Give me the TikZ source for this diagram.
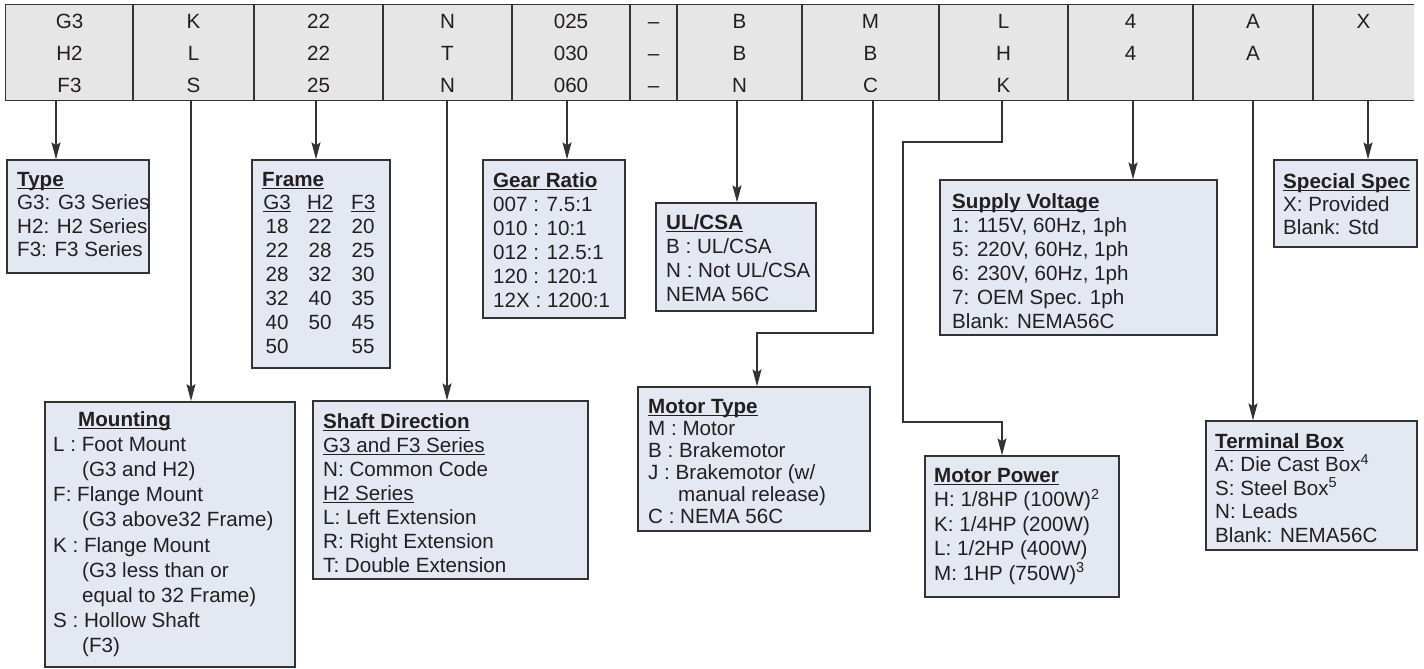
\documentclass[tikz,border=0pt]{standalone}
\usepackage{fontspec}
\setmainfont{Liberation Sans}
\usetikzlibrary{arrows.meta,fit}
\definecolor{hdrfill}{RGB}{230,230,231}
\definecolor{boxfill}{RGB}{228,232,243}
\definecolor{ink}{RGB}{35,31,32}
\definecolor{edge}{RGB}{51,51,51}
\newcommand\fsz[1]{\fontsize{20.6}{#1}\selectfont}
\newcommand\myul[1]{\setbox0=\hbox{#1}\rlap{\rule[-3pt]{\wd0}{1.5pt}}\box0}
\newcommand\myulthin[1]{\setbox0=\hbox{#1}\rlap{\rule[-2.8pt]{\wd0}{1.1pt}}\box0}
\newcommand\fc[1]{\makebox[43pt][c]{#1}}
\begin{document}
\begin{tikzpicture}[x=1pt,y=-1pt,
  infobox/.style={draw=edge, fill=boxfill, line width=1.3pt, inner sep=0pt, rectangle},
  conn/.style={draw=edge, line width=1.2pt, -{Stealth[length=17pt,width=9pt,inset=3pt]}},
  txt/.style={anchor=north west, inner sep=0pt, align=left, text=ink, font=\fsz{24}},
  cell/.style={inner sep=0pt, text height=14.4pt, text depth=0pt, font=\fsz{24}, text=ink},
  hline/.style={draw=edge, line width=1.2pt}]
\useasboundingbox (0,0) rectangle (1424,669);

% header
\node[fill=hdrfill, inner sep=0pt, fit={(6,5) (1414,100)}] (hdr) {};
\draw[hline] (hdr.north east) -- (hdr.north west) -- (hdr.south west) -- (hdr.south east);
\foreach \x in {133,254,383,512,630,677,802,939,1068,1193,1313}
  \draw[hline] (\x,5) -- (\x,100);
\foreach \x/\a/\b/\c [count=\i] in {69.5/G3/H2/F3, 193.5/K/L/S, 318.5/22/22/25, 447.5/N/T/N,
  571/025/030/060, 653.5/\textendash/\textendash/\textendash, 739.5/B/B/N, 870.5/M/B/C,
  1003.5/L/H/K, 1130.5/4/4/{}, 1253/A/A/{}, 1363.5/X/{}/{}}{
  \node[cell] (h\i r1) at (\x,21) {\a};
  \node[cell] (h\i r2) at (\x,53) {\b};
  \node[cell] (h\i r3) at (\x,85) {\c};
}

% boxes
\node[infobox, fit={(7,160) (149,273)}] (type) {};
\node[infobox, fit={(252,160) (390,368)}] (frame) {};
\node[infobox, fit={(483,160) (625,318)}] (gear) {};
\node[infobox, fit={(656,203) (816,311)}] (ulcsa) {};
\node[infobox, fit={(940,180) (1217,335)}] (supply) {};
\node[infobox, fit={(1274,160) (1417,247)}] (special) {};
\node[infobox, line width=2pt, fit={(45,402) (295,667)}] (mount) {};
\node[infobox, fit={(313,401) (588,579)}] (shaft) {};
\node[infobox, fit={(638,387) (870,531)}] (mtype) {};
\node[infobox, fit={(925,456) (1119,597)}] (mpower) {};
\node[infobox, fit={(1206,421) (1417,550)}] (term) {};

% box texts
\node[txt, font=\fsz{23.5}] (typeT) at (17,172) {\myul{\textbf{Type}}\\G3: G3 Series\\H2: H2 Series\\F3: F3 Series};
\node[txt] (frameT) at (262,172) {\myul{\textbf{Frame}}};
\node[txt] (frameTab) at (255.5,195) {\fc{\myulthin{G3}}\fc{\myulthin{H2}}\fc{\myulthin{F3}}\\
  \fc{18}\fc{22}\fc{20}\\ \fc{22}\fc{28}\fc{25}\\ \fc{28}\fc{32}\fc{30}\\
  \fc{32}\fc{40}\fc{35}\\ \fc{40}\fc{50}\fc{45}\\ \fc{50}\fc{}\fc{55}};
\node[txt] (gearT) at (493,172) {\myul{\textbf{Gear Ratio}}\\007 : 7.5:1\\010 : 10:1\\012 : 12.5:1\\120 : 120:1\\12X : 1200:1};
\node[txt] (ulcsaT) at (666,214) {\myul{\textbf{UL/CSA}}\\B : UL/CSA\\N : Not UL/CSA\\NEMA 56C};
\node[txt] (supplyT) at (952,193) {\myul{\textbf{Supply Voltage}}\\1: 115V, 60Hz, 1ph\\5: 220V, 60Hz, 1ph\\6: 230V, 60Hz, 1ph\\7: OEM Spec. 1ph\\Blank: NEMA56C};
\node[txt, font=\fsz{23}] (specialT) at (1283,173) {\myul{\textbf{Special Spec}}\\X: Provided\\Blank: Std};
\node[txt, font=\fsz{25.2}] (mountT) at (53,411) {\hspace*{25pt}\myul{\textbf{Mounting}}\\L : Foot Mount\\\hspace*{29pt}(G3 and H2)\\F: Flange Mount\\\hspace*{29pt}(G3 above32 Frame)\\K : Flange Mount\\\hspace*{29pt}(G3 less than or\\\hspace*{29pt}equal to 32 Frame)\\S : Hollow Shaft\\\hspace*{29pt}(F3)};
\node[txt] (shaftT) at (323,413) {\myul{\textbf{Shaft Direction}}\\\myulthin{G3 and F3 Series}\\N: Common Code\\\myulthin{H2 Series}\\L: Left Extension\\R: Right Extension\\T: Double Extension};
\node[txt, font=\fsz{22}] (mtypeT) at (648,399) {\myul{\textbf{Motor Type}}\\M : Motor\\B : Brakemotor\\J : Brakemotor (w/\\\hspace*{30pt}manual release)\\C : NEMA 56C};
\node[txt, font=\fsz{24.5}] (mpowerT) at (934,468) {\myul{\textbf{Motor Power}}\\H: 1/8HP (100W)\textsuperscript{2}\\K: 1/4HP (200W)\\L: 1/2HP (400W)\\M: 1HP (750W)\textsuperscript{3}};
\node[txt, font=\fsz{23.5}] (termT) at (1215,433) {\myul{\textbf{Terminal Box}}\\A: Die Cast Box\textsuperscript{4}\\S: Steel Box\textsuperscript{5}\\N: Leads\\Blank: NEMA56C};

% connectors
\coordinate (cG) at (56,100);   \draw[conn] (cG) -- (cG |- type.north);
\coordinate (cK) at (191,100);  \draw[conn] (cK) -- (cK |- mount.north);
\coordinate (cF) at (316,100);  \draw[conn] (cF) -- (cF |- frame.north);
\coordinate (cN) at (447,100);  \draw[conn] (cN) -- (cN |- shaft.north);
\coordinate (cR) at (567,100);  \draw[conn] (cR) -- (cR |- gear.north);
\coordinate (cB) at (737,100);  \draw[conn] (cB) -- (cB |- ulcsa.north);
\coordinate (cM) at (873,100);  \coordinate (mbend) at (757,333);
\draw[conn] (cM) |- (mbend) -- (mbend |- mtype.north);
\coordinate (cL) at (1002,100); \coordinate (lb1) at (903,142); \coordinate (lb2) at (1002,422);
\draw[conn] (cL) |- (lb1) |- (lb2) -- (lb2 |- mpower.north);
\coordinate (cV) at (1133,100); \draw[conn] (cV) -- (cV |- supply.north);
\coordinate (cA) at (1253,100); \draw[conn] (cA) -- (cA |- term.north);
\coordinate (cX) at (1368,100); \draw[conn] (cX) -- (cX |- special.north);
\end{tikzpicture}
\end{document}
